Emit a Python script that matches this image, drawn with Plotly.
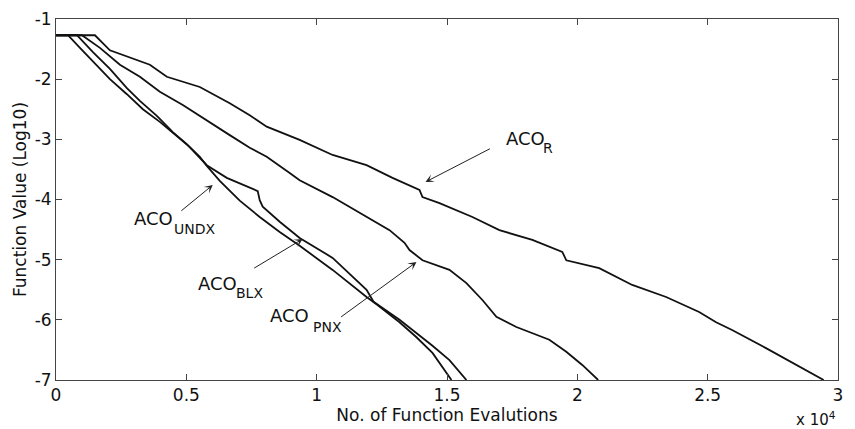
import plotly.graph_objects as go

# ---- data ----
acor_x = [0, 1494, 2069, 3601, 4252, 5517, 6666, 7432, 8083, 9347, 10611, 11914, 12910,
          13945, 14060, 14711, 15975, 17010, 18274, 19423, 19577, 20840, 22105, 23407,
          24672, 25323, 25936, 27238, 29450]
acor_y = [-1.27, -1.27, -1.52, -1.76, -1.96, -2.13, -2.40, -2.60, -2.79, -3.01, -3.26, -3.43, -3.64,
          -3.84, -3.96, -4.06, -4.29, -4.51, -4.67, -4.87, -5.01, -5.14, -5.42, -5.62,
          -5.87, -6.04, -6.17, -6.47, -7.0]

pnx_x = [0, 996, 1686, 2452, 3218, 3984, 4865, 5900, 6666, 7432, 8083, 8965, 9347, 10612,
         11914, 12796, 13370, 13562, 14060, 15094, 15745, 16358, 16895, 17661, 18925,
         19576, 20189, 20800]
pnx_y = [-1.27, -1.27, -1.48, -1.76, -1.96, -2.21, -2.43, -2.71, -2.93, -3.14, -3.29, -3.56, -3.68, -3.96,
         -4.29, -4.51, -4.72, -4.84, -5.01, -5.17, -5.39, -5.67, -5.95, -6.12, -6.33,
         -6.53, -6.75, -7.0]

undx_x = [0, 460, 919, 1417, 2069, 2720, 3333, 3984, 4636, 5134, 5517, 5785, 6283, 7049,
          7815, 8582, 9348, 10612, 11914, 12298, 13179, 13830, 14443, 14980, 15171]
undx_y = [-1.27, -1.27, -1.48, -1.71, -2.00, -2.25, -2.50, -2.71, -2.94, -3.13, -3.29, -3.44, -3.69, -4.02,
          -4.29, -4.54, -4.77, -5.17, -5.62, -5.74, -6.04, -6.29, -6.55, -6.87, -7.0]

blx_x = [0, 805, 1417, 2069, 2720, 3218, 3869, 4482, 5019, 5517, 5785, 6551, 7317, 7739,
         7815, 7930, 8582, 9348, 10612, 11914, 12183, 13179, 14443, 15094, 15745]
blx_y = [-1.27, -1.27, -1.55, -1.83, -2.15, -2.36, -2.61, -2.88, -3.08, -3.31, -3.43, -3.64, -3.78, -3.86,
         -4.01, -4.12, -4.37, -4.64, -4.97, -5.50, -5.70, -6.00, -6.43, -6.67, -7.0]

x_tickvals = [0, 5000, 10000, 15000, 20000, 25000, 30000]
x_ticktext = ["0", "0.5", "1", "1.5", "2", "2.5", "3"]
y_tickvals = [-7, -6, -5, -4, -3, -2, -1]
y_ticktext = ["-7", "-6", "-5", "-4", "-3", "-2", "-1"]

FONT = "DejaVu Sans"
LINE = dict(color="#111111", width=1.8)

fig = go.Figure()
for name, xs, ys in [("ACO_R", acor_x, acor_y), ("ACO_PNX", pnx_x, pnx_y),
                     ("ACO_UNDX", undx_x, undx_y), ("ACO_BLX", blx_x, blx_y)]:
    fig.add_trace(go.Scatter(x=xs, y=ys, mode="lines", name=name, line=LINE,
                             showlegend=False, hoverinfo="skip"))

annotations = []
# labels: main "ACO" left edge / subscript left edge, in data coords
labels = [
    ("R", (17240, -2.986), (18650, -3.152)),
    ("UNDX", (2960, -4.316), (4480, -4.498)),
    ("BLX", (5400, -5.388), (6860, -5.554)),
    ("PNX", (8190, -5.936), (9810, -6.119)),
]
for sub, (mx, my), (sx, sy) in labels:
    annotations.append(dict(x=mx, y=my, xref="x", yref="y", text="ACO", showarrow=False,
                            font=dict(family=FONT, size=18, color="#111111"),
                            xanchor="left", yanchor="middle", borderpad=0))
    annotations.append(dict(x=sx, y=sy, xref="x", yref="y", text=sub, showarrow=False,
                            font=dict(family=FONT, size=14, color="#111111"),
                            xanchor="left", yanchor="middle", borderpad=0))

# arrows: (tail, tip)
arrows = [
    ((16703, -3.144), (14175, -3.709)),
    ((4750, -4.208), (6015, -3.759)),
    ((7547, -5.155), (9463, -4.656)),
    ((10880, -5.969), (13830, -5.039)),
]
for (tx, ty), (hx, hy) in arrows:
    annotations.append(dict(x=hx, y=hy, ax=tx, ay=ty, xref="x", yref="y", axref="x", ayref="y",
                            text="", showarrow=True, arrowhead=3, arrowsize=1.4,
                            arrowwidth=1, arrowcolor="#222222", standoff=0, startstandoff=0))

annotations.append(dict(x=(795 - 56) / 782, y=(380 - 408) / 361, xref="paper", yref="paper",
                        text="x 10<sup>4</sup>", showarrow=False, xanchor="left", yanchor="top",
                        font=dict(family=FONT, size=15, color="#111111"), borderpad=0))

axis_common = dict(showgrid=False, zeroline=False, showline=True, linecolor="#444444",
                   linewidth=1, ticks="inside", ticklen=6, tickcolor="#444444",
                   mirror="ticks", automargin=False,
                   tickfont=dict(family=FONT, size=17, color="#111111"))

fig.update_layout(
    width=855, height=429,
    margin=dict(l=56, r=17, t=19, b=49),
    paper_bgcolor="white", plot_bgcolor="white",
    xaxis=dict(range=[0, 30000], tickvals=x_tickvals, ticktext=x_ticktext,
               title=dict(text="No. of Function Evalutions",
                          font=dict(family=FONT, size=17, color="#111111"), standoff=0),
               **axis_common),
    yaxis=dict(range=[-7, -1], tickvals=y_tickvals, ticktext=y_ticktext,
               title=dict(text="Function Value (Log10)",
                          font=dict(family=FONT, size=17, color="#111111"), standoff=3),
               **axis_common),
    annotations=annotations,
)

fig.write_html("out.html", config={"displayModeBar": False},
               post_script="document.body.style.margin='0';")
